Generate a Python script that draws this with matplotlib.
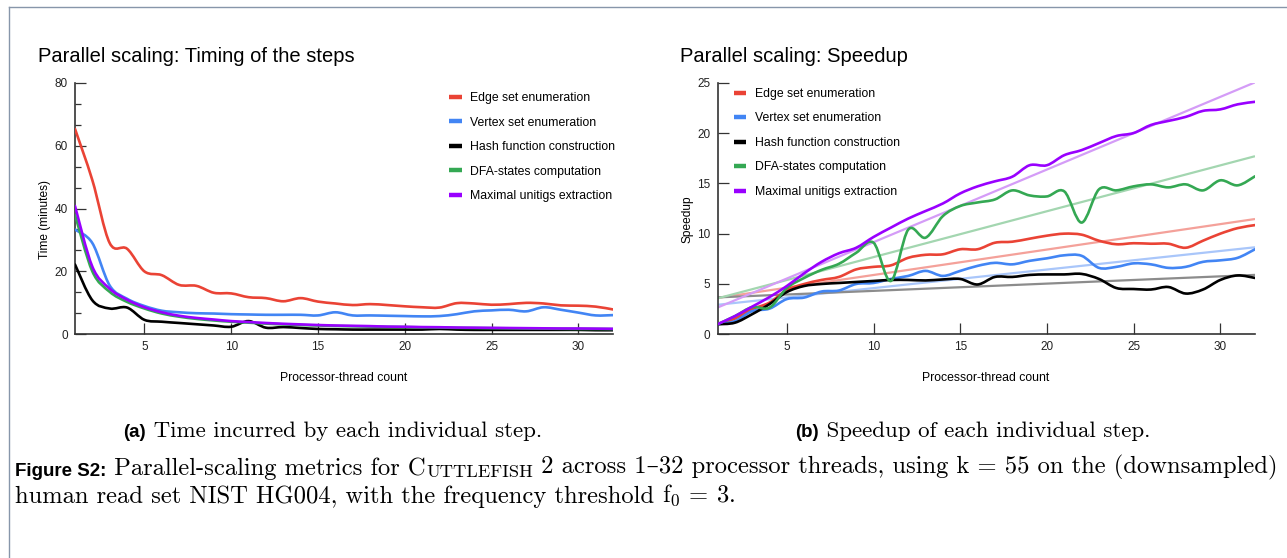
import matplotlib

matplotlib.use("Agg")
import matplotlib.pyplot as plt
import numpy as np
from matplotlib.lines import Line2D
from matplotlib.patches import PathPatch
from matplotlib.path import Path
from matplotlib.ticker import MultipleLocator

plt.rcParams["font.family"] = ["Liberation Sans", "DejaVu Sans"]
plt.rcParams["mathtext.fontset"] = "cm"

THREADS = list(range(1, 33))
STEPS = [
    "Edge set enumeration",
    "Vertex set enumeration",
    "Hash function construction",
    "DFA-states computation",
    "Maximal unitigs extraction",
]
COLORS = ["#ea4335", "#4285f4", "#000000", "#34a853", "#9900ff"]
TREND_COLORS = ["#f4a19a", "#a9c6fa", "#8c8c8c", "#a3d6b0", "#d49cf7"]

# time per step (minutes)
TIME_EDGE = [65.3, 49, 29, 27.2, 20, 18.8, 15.7, 15.4, 13.2, 13.0, 11.8, 11.5, 10.5, 11.5, 10.4, 9.8,
             9.3, 9.6, 9.3, 8.9, 8.6, 8.5, 9.9, 9.8, 9.4, 9.6, 10.0, 9.8, 9.2, 9.1, 8.8, 7.9]
TIME_VERTEX = [33.3, 29, 15.5, 11.3, 9.0, 7.5, 7.0, 6.7, 6.6, 6.4, 6.3, 6.2, 6.2, 6.2, 6.0, 7.0,
               6.0, 6.0, 5.9, 5.8, 5.7, 5.8, 6.4, 7.3, 7.6, 7.8, 7.3, 8.6, 7.8, 6.9, 6.0, 6.1]
TIME_HASH = [22.2, 10.8, 8.2, 8.5, 4.6, 4.0, 3.6, 3.2, 2.8, 2.4, 4.2, 2.1, 2.3, 2.0, 1.7, 1.6,
             1.5, 1.5, 1.5, 1.5, 1.5, 1.7, 1.5, 1.4, 1.4, 1.4, 1.4, 1.4, 1.4, 1.4, 1.3, 1.3]
TIME_DFA = [38.0, 20.0, 13.5, 10.3, 8.2, 6.6, 5.6, 4.9, 4.4, 4.0, 3.7, 3.4, 3.15, 2.95, 2.8, 2.65,
            2.55, 2.45, 2.35, 2.3, 2.2, 2.15, 2.05, 2.0, 1.95, 1.9, 1.85, 1.8, 1.75, 1.7, 1.7, 1.65]
TIME_UNITIGS = [40.8, 21.5, 14.5, 11.0, 8.6, 7.0, 5.9, 5.2, 4.7, 4.2, 3.9, 3.6, 3.35, 3.15, 2.95, 2.8,
                2.7, 2.6, 2.45, 2.4, 2.3, 2.25, 2.15, 2.1, 2.05, 2.0, 1.95, 1.9, 1.85, 1.85, 1.8, 1.75]

# speedup per step
SPEEDUP_EDGE = [1.0, 1.55, 2.5, 3.15, 4.4, 5.0, 5.4, 5.7, 6.45, 6.7, 6.85, 7.6, 7.9, 7.95, 8.45, 8.45,
                9.1, 9.2, 9.5, 9.8, 10.0, 9.9, 9.3, 8.95, 9.05, 9.0, 9.0, 8.6, 9.3, 10.0, 10.55, 10.85]
SPEEDUP_VERTEX = [1.0, 1.3, 2.3, 2.55, 3.5, 3.65, 4.25, 4.35, 5.0, 5.1, 5.5, 5.8, 6.3, 5.8, 6.3, 6.8,
                  7.1, 6.95, 7.3, 7.55, 7.85, 7.8, 6.6, 6.7, 7.05, 6.95, 6.6, 6.7, 7.2, 7.35, 7.6, 8.45]
SPEEDUP_HASH = [1.0, 1.15, 2.0, 3.0, 4.2, 4.8, 5.0, 5.1, 5.2, 5.3, 5.4, 5.4, 5.35, 5.45, 5.5, 4.95,
                5.7, 5.7, 5.9, 5.95, 5.95, 6.0, 5.5, 4.6, 4.5, 4.45, 4.7, 4.05, 4.45, 5.4, 5.85, 5.6]
SPEEDUP_DFA = [1.0, 1.8, 2.7, 2.65, 4.6, 5.6, 6.4, 7.0, 8.1, 9.1, 5.3, 10.4, 9.6, 11.75, 12.75, 13.1,
               13.4, 14.3, 13.8, 13.7, 14.2, 11.1, 14.4, 14.3, 14.7, 14.9, 14.6, 14.9, 14.3, 15.3, 14.8, 15.7]
SPEEDUP_UNITIGS = [1.0, 1.8, 2.75, 3.7, 4.8, 6.06, 7.2, 8.05, 8.6, 9.67, 10.6, 11.5, 12.25, 13.0, 14.0, 14.7,
                   15.2, 15.66, 16.8, 16.8, 17.8, 18.3, 19.0, 19.7, 20.0, 20.8, 21.2, 21.6, 22.2, 22.35, 22.85, 23.1]

TIME_SERIES = [TIME_EDGE, TIME_VERTEX, TIME_HASH, TIME_DFA, TIME_UNITIGS]
SPEEDUP_SERIES = [SPEEDUP_EDGE, SPEEDUP_VERTEX, SPEEDUP_HASH, SPEEDUP_DFA, SPEEDUP_UNITIGS]

W, H = 1287, 558
SPINE = "#333333"


def smooth_line(ax, x, y, color, lw, alpha=1.0, zorder=3):
    # smoothed line through the data points (cubic Bezier segments)
    x = np.asarray(x, float)
    y = np.asarray(y, float)
    n = len(x)
    verts = [(x[0], y[0])]
    codes = [Path.MOVETO]
    for i in range(n - 1):
        xa, ya = (x[i - 1], y[i - 1]) if i > 0 else (x[i], y[i])
        xb, yb = (x[i + 2], y[i + 2]) if i + 2 < n else (x[i + 1], y[i + 1])
        c1 = (x[i] + (x[i + 1] - xa) / 6, y[i] + (y[i + 1] - ya) / 6)
        c2 = (x[i + 1] - (xb - x[i]) / 6, y[i + 1] - (yb - y[i]) / 6)
        verts += [c1, c2, (x[i + 1], y[i + 1])]
        codes += [Path.CURVE4] * 3
    patch = PathPatch(Path(verts, codes), facecolor="none", edgecolor=color, lw=lw,
                      alpha=alpha, zorder=zorder, capstyle="round", joinstyle="round")
    ax.add_patch(patch)


def style_axes(ax):
    for side in ["top", "right"]:
        ax.spines[side].set_visible(False)
    for side in ["left", "bottom"]:
        ax.spines[side].set_color(SPINE)
        ax.spines[side].set_linewidth(1.2)
    ax.tick_params(which="major", direction="in", length=8, width=0.9, color=SPINE,
                   labelsize=8.5, labelcolor="#222222", pad=5)
    ax.tick_params(which="minor", direction="in", length=4, width=0.9, color=SPINE)
    ax.set_xlim(1, 32)
    ax.set_xticks([5, 10, 15, 20, 25, 30])


def add_legend(ax, x0, y0):
    handles = [Line2D([], [], color=c, lw=3.2, solid_capstyle="butt") for c in COLORS]
    ax.legend(handles, STEPS, loc="upper left", bbox_to_anchor=(x0, y0), frameon=False,
              fontsize=8.8, handlelength=1.05, handletextpad=0.7, labelspacing=1.02,
              borderpad=0, borderaxespad=0)


fig = plt.figure(figsize=(W / 100, H / 100), dpi=100)

ax1 = fig.add_axes([75 / W, 1 - 334.3 / H, 538 / W, 251.6 / H])
ax2 = fig.add_axes([717.5 / W, 1 - 334.3 / H, 537.5 / W, 251.6 / H])

# panel (a): time
style_axes(ax1)
ax1.set_ylim(0, 80)
ax1.set_yticks([0, 20, 40, 60, 80])
ax1.yaxis.set_minor_locator(MultipleLocator(20 / 3))
for values, color in zip(TIME_SERIES, COLORS):
    smooth_line(ax1, THREADS, values, color, lw=1.9)
add_legend(ax1, 0.695, 0.962)

# panel (b): speedup with linear trendlines
style_axes(ax2)
ax2.set_ylim(0, 25)
ax2.set_yticks([0, 5, 10, 15, 20, 25])
x_arr = np.array(THREADS, float)
for values, color, tcolor in zip(SPEEDUP_SERIES, COLORS, TREND_COLORS):
    slope, intercept = np.polyfit(x_arr, values, 1)
    ax2.plot([1, 32], [slope * 1 + intercept, slope * 32 + intercept], color=tcolor,
             lw=1.6, zorder=2, solid_capstyle="butt")
for values, color in zip(SPEEDUP_SERIES, COLORS):
    smooth_line(ax2, THREADS, values, color, lw=1.9)
add_legend(ax2, 0.03, 0.979)

# titles and axis labels
fig.text(38 / W, 1 - 56 / H, "Parallel scaling: Timing of the steps", fontsize=14.5, va="center")
fig.text(680 / W, 1 - 56 / H, "Parallel scaling: Speedup", fontsize=14.5, va="center")
fig.text(45 / W, 1 - 220 / H, "Time (minutes)", fontsize=8.6, rotation=90, ha="center", va="center")
fig.text(687 / W, 1 - 219 / H, "Speedup", fontsize=8.6, rotation=90, ha="center", va="center")
fig.text(344 / W, 1 - 378 / H, "Processor-thread count", fontsize=8.8, ha="center", va="center")
fig.text(986 / W, 1 - 378 / H, "Processor-thread count", fontsize=8.8, ha="center", va="center")

# captions
bg = fig.add_axes([0, 0, 1, 1], zorder=-1)
bg.set_xlim(0, W)
bg.set_ylim(H, 0)
bg.axis("off")

SERIF = ["cmr10", "DejaVu Serif"]
BOLD = dict(family=["Liberation Sans", "DejaVu Sans"], fontweight="bold", fontsize=13.5)
SUB_ROMAN = dict(family=SERIF, fontsize=16.5)
ROMAN = dict(family=SERIF, fontsize=17.7)


def chain(parts, x, y):
    prev = bg.text(x, y, parts[0][0], va="baseline", **parts[0][1])
    for s, kw in parts[1:]:
        prev = bg.annotate(s, xy=(1, 0), xycoords=prev, va="bottom", **kw)
    return prev


chain([("(a)", BOLD), (" Time incurred by each individual step.", SUB_ROMAN)], 123, 437)
chain([("(b)", BOLD), (" Speedup of each individual step.", SUB_ROMAN)], 795, 437)
chain([
    ("Figure S2:", BOLD),
    (" Parallel-scaling metrics for C", ROMAN),
    ("UTTLEFISH", dict(family=SERIF, fontsize=13.2)),
    (" 2 across 1\u201332 processor threads, using k = 55 on the (downsampled)", ROMAN),
], 15, 476)
chain([
    ("human read set NIST HG004, with the frequency threshold ", ROMAN),
    (r"$\mathrm{f}_0$ = 3.", ROMAN),
], 15, 503)

# page frame
bg.plot([9, 9], [7, H], color="#8796aa", lw=1.0)
bg.plot([9, W], [7, 7], color="#8796aa", lw=1.0)

fig.savefig("out.png", dpi=100)
